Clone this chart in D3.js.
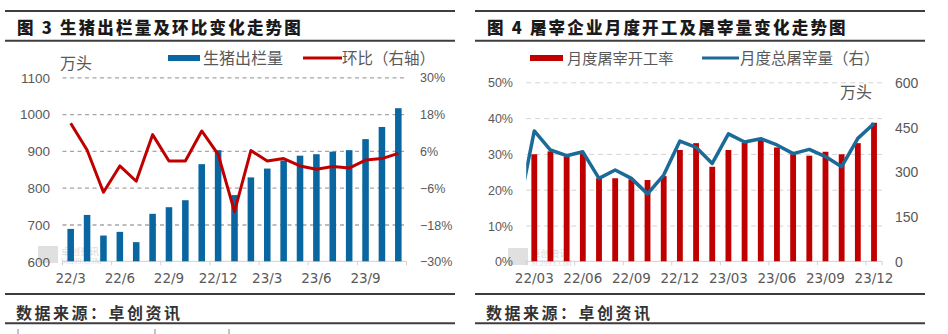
<!DOCTYPE html>
<html><head><meta charset="utf-8">
<script src="https://cdn.jsdelivr.net/npm/d3@7"></script>
<style>
html,body{margin:0;padding:0;background:#fff;}
svg{display:block;}
</style></head>
<body>
<svg id="c" width="948" height="334"></svg>
<script>
// ---------- Data: chart 3 ----------
const months1 = ['22/3','22/4','22/5','22/6','22/7','22/8','22/9','22/10','22/11','22/12','23/1','23/2','23/3','23/4','23/5','23/6','23/7','23/8','23/9','23/10','23/11'];
const hogOutput = [688,726,670,680,652,729,747,766,864,902,780,828,852,874,887,891,898,902,932,965,1016];
const momChange = [15.0,6.3,-7.5,1.1,-3.9,11.3,2.7,2.7,12.5,4.9,-13.8,6.1,2.7,3.5,1.1,0.0,0.9,0.4,3.0,3.5,5.2];
const xLabels1 = ['22/3','22/6','22/9','22/12','23/3','23/6','23/9'];
const yTicks1 = [600,700,800,900,1000,1100];
const y2Ticks1 = [-30,-18,-6,6,18,30];

// ---------- Data: chart 4 ----------
const months2 = ['22/03','22/04','22/05','22/06','22/07','22/08','22/09','22/10','22/11','22/12','23/01','23/02','23/03','23/04','23/05','23/06','23/07','23/08','23/09','23/10','23/11','23/12'];
const lineMonths2 = ['22/02'].concat(months2);
const slaughterRate = [29.9,30.7,29.3,30.0,23.2,23.2,22.9,22.7,23.8,31.1,33.0,26.4,31.1,33.1,33.9,31.8,29.9,29.5,30.6,29.9,33.0,38.7];
const slaughterVol = [165,437,373,354,367,278,306,278,226,289,403,382,328,427,400,411,390,361,375,351,317,412,462];
const xLabels2 = ['22/03','22/06','22/09','22/12','23/03','23/06','23/09','23/12'];
const yTicks2 = [0,10,20,30,40,50];
const y2Ticks2 = [0,150,300,450,600];

const svg = d3.select('#c');
svg.append('rect').attr('width',948).attr('height',334).attr('fill','#fff');

const CJK = '"Noto Sans CJK SC","Noto Sans",sans-serif';
const NUM = '"Liberation Sans",Arial,sans-serif';
const XNUM = '"DejaVu Sans",sans-serif';
const GRAY = '#595959';

function frame(x0, x1, title, source){
  const g = svg.append('g');
  [11, 40.7, 294, 323.3].forEach(y=>{
    g.append('line').attr('x1',x0).attr('x2',x1).attr('y1',y).attr('y2',y)
      .attr('stroke','#3d3d3d').attr('stroke-width',2);
  });
  g.append('text').attr('x',x0+12).attr('y',34).text(title)
    .attr('font-family',CJK).attr('font-weight',900).attr('font-size',16.5)
    .attr('letter-spacing',2.2).attr('fill','#1a1a1a').attr('xml:space','preserve');
  g.append('text').attr('x',x0+11).attr('y',318.5).text(source)
    .attr('font-family',CJK).attr('font-weight',700).attr('font-size',16)
    .attr('letter-spacing',2.5).attr('fill','#333');
}

function watermark(x, y){
  const g = svg.append('g').attr('opacity',0.55);
  g.append('rect').attr('x',x).attr('y',y).attr('width',20).attr('height',17).attr('fill','#c8c8c8');
  g.append('text').attr('x',x+23).attr('y',y+8.5).text('卓创资讯')
    .attr('font-family',CJK).attr('font-size',9.5).attr('fill','#bdbdbd');
  g.append('text').attr('x',x+23).attr('y',y+18).text('SCI99.COM')
    .attr('font-family','"Liberation Serif",serif').attr('font-size',8).attr('fill','#bdbdbd');
}

// ================= Chart 3 =================
frame(5, 455, '图 3 生猪出栏量及环比变化走势图', '数据来源：卓创资讯');
{
  const x = d3.scaleBand().domain(months1).range([62.5,406.5]).padding(0);
  const y = d3.scaleLinear().domain([600,1100]).range([261.3,77.3]);
  const y2 = d3.scaleLinear().domain([-30,30]).range([261.3,77.3]);
  const [xa, xb] = x.range();

  const grid = svg.append('g').attr('transform',`translate(${xa},0)`)
    .call(d3.axisLeft(y).tickValues(yTicks1.slice(1)).tickSize(-(xb-xa)).tickFormat(''));
  grid.select('.domain').remove();
  grid.selectAll('line').attr('stroke','#a6a6a6').attr('stroke-width',1.3).attr('stroke-dasharray','4,3.5');

  watermark(38, 246);

  svg.append('line').attr('x1',xa).attr('x2',xb).attr('y1',y(600)).attr('y2',y(600))
    .attr('stroke','#d0d0d0').attr('stroke-width',1);
  const bounds = months1.filter((d,i)=>i%3===0).map(d=>x(d)).concat([xb]);
  svg.append('g').selectAll('line').data(bounds).join('line')
    .attr('x1',d=>d).attr('x2',d=>d).attr('y1',y(600)).attr('y2',y(600)+4)
    .attr('stroke','#d0d0d0');

  const bw = x.bandwidth()*0.4;
  svg.append('g').selectAll('rect').data(months1).join('rect')
    .attr('x',(d)=>x(d)+(x.bandwidth()-bw)/2)
    .attr('width',bw)
    .attr('y',(d,i)=>y(hogOutput[i]))
    .attr('height',(d,i)=>y(600)-y(hogOutput[i]))
    .attr('fill','#0a66a0');

  const line = d3.line().x((d,i)=>x(months1[i])+x.bandwidth()/2).y(d=>y2(d));
  svg.append('path').datum(momChange).attr('d',line).attr('fill','none')
    .attr('stroke','#c00000').attr('stroke-width',3).attr('stroke-linejoin','round');

  const la = svg.append('g').attr('transform','translate(50,0)')
    .call(d3.axisLeft(y).tickValues(yTicks1).tickSize(0).tickPadding(0).tickFormat(d3.format('d')));
  la.select('.domain').remove();
  la.selectAll('text').attr('font-family',NUM).attr('font-size',13.5).attr('fill',GRAY).attr('dy','0.36em');

  const ra = svg.append('g').attr('transform','translate(420,0)')
    .call(d3.axisRight(y2).tickValues(y2Ticks1).tickSize(0).tickPadding(0).tickFormat(d=>(d<0?'−':'')+Math.abs(d)+'%'));
  ra.select('.domain').remove();
  ra.selectAll('text').attr('font-family',NUM).attr('font-size',12.5).attr('fill',GRAY).attr('dy','0.36em');

  const xaG = svg.append('g').attr('transform',`translate(0,${y(600)})`)
    .call(d3.axisBottom(x).tickValues(xLabels1).tickSize(0).tickPadding(17));
  xaG.select('.domain').remove();
  xaG.selectAll('text').attr('font-family',XNUM).attr('font-size',13.5).attr('fill',GRAY).attr('dy','0.36em');

  svg.append('text').attr('x',60).attr('y',68.5).text('万头')
    .attr('font-family',CJK).attr('font-size',16).attr('fill',GRAY);
  svg.append('rect').attr('x',168).attr('y',55).attr('width',32).attr('height',6).attr('fill','#0a66a0');
  svg.append('text').attr('x',203).attr('y',64).text('生猪出栏量')
    .attr('font-family',CJK).attr('font-size',16).attr('fill',GRAY);
  svg.append('line').attr('x1',303).attr('x2',342).attr('y1',58).attr('y2',58)
    .attr('stroke','#c00000').attr('stroke-width',3);
  svg.append('text').attr('x',342).attr('y',64).text('环比（右轴）')
    .attr('font-family',CJK).attr('font-size',15.5).attr('fill',GRAY);
}

// ================= Chart 4 =================
frame(475, 925, '图 4 屠宰企业月度开工及屠宰量变化走势图', '数据来源：卓创资讯');
{
  const x = d3.scaleBand().domain(months2).range([526.2,882.1]).padding(0);
  const y = d3.scaleLinear().domain([0,50]).range([261.3,82.3]);
  const y2 = d3.scaleLinear().domain([0,600]).range([261.3,82.3]);
  const [xa, xb] = x.range();
  const step = x.step();

  const grid = svg.append('g').attr('transform',`translate(${xa},0)`)
    .call(d3.axisLeft(y).tickValues(yTicks2.slice(1)).tickSize(-(xb-xa)).tickFormat(''));
  grid.select('.domain').remove();
  grid.selectAll('line').attr('stroke','#d4d4d4').attr('stroke-width',1).attr('stroke-dasharray','5,4');

  watermark(508, 248);

  svg.append('line').attr('x1',xa).attr('x2',xb).attr('y1',y(0)).attr('y2',y(0))
    .attr('stroke','#d0d0d0').attr('stroke-width',1);
  const bounds = months2.filter((d,i)=>i%3===0).map(d=>x(d)).concat([xb]);
  svg.append('g').selectAll('line').data(bounds).join('line')
    .attr('x1',d=>d).attr('x2',d=>d).attr('y1',y(0)).attr('y2',y(0)+4)
    .attr('stroke','#d0d0d0');

  const bw = x.bandwidth()*0.36;
  svg.append('g').selectAll('rect').data(months2).join('rect')
    .attr('x',d=>x(d)+(x.bandwidth()-bw)/2)
    .attr('width',bw)
    .attr('y',(d,i)=>y(slaughterRate[i]))
    .attr('height',(d,i)=>y(0)-y(slaughterRate[i]))
    .attr('fill','#c00000');

  const xl = d3.scalePoint().domain(lineMonths2)
    .range([x(months2[0])+x.bandwidth()/2-step, x(months2[months2.length-1])+x.bandwidth()/2]);
  svg.append('clipPath').attr('id','clip4').append('rect')
    .attr('x',xa).attr('y',0).attr('width',xb-xa+10).attr('height',334);
  const line = d3.line().x((d,i)=>xl(lineMonths2[i])).y(d=>y2(d));
  svg.append('path').datum(slaughterVol).attr('d',line).attr('fill','none')
    .attr('clip-path','url(#clip4)')
    .attr('stroke','#1b6b98').attr('stroke-width',3.5).attr('stroke-linejoin','round');

  const la = svg.append('g').attr('transform','translate(513,0)')
    .call(d3.axisLeft(y).tickValues(yTicks2).tickSize(0).tickPadding(0).tickFormat(d=>d+'%'));
  la.select('.domain').remove();
  la.selectAll('text').attr('font-family',NUM).attr('font-size',12.5).attr('fill',GRAY).attr('dy','0.36em');

  const ra = svg.append('g').attr('transform','translate(895,0)')
    .call(d3.axisRight(y2).tickValues(y2Ticks2).tickSize(0).tickPadding(0).tickFormat(d3.format('d')));
  ra.select('.domain').remove();
  ra.selectAll('text').attr('font-family',NUM).attr('font-size',14).attr('fill',GRAY).attr('dy','0.36em');

  const xaG = svg.append('g').attr('transform',`translate(0,${y(0)})`)
    .call(d3.axisBottom(x).tickValues(xLabels2).tickSize(0).tickPadding(17));
  xaG.select('.domain').remove();
  xaG.selectAll('text').attr('font-family',XNUM).attr('font-size',13.5).attr('fill',GRAY).attr('dy','0.36em');

  svg.append('text').attr('x',840).attr('y',98).text('万头')
    .attr('font-family',CJK).attr('font-size',16).attr('fill',GRAY);
  svg.append('rect').attr('x',530).attr('y',55).attr('width',33).attr('height',6).attr('fill','#c00000');
  svg.append('text').attr('x',567).attr('y',64).text('月度屠宰开工率')
    .attr('font-family',CJK).attr('font-size',15.2).attr('fill',GRAY);
  svg.append('line').attr('x1',702).attr('x2',739).attr('y1',58).attr('y2',58)
    .attr('stroke','#1b6b98').attr('stroke-width',3);
  svg.append('text').attr('x',740).attr('y',64).text('月度总屠宰量（右）')
    .attr('font-family',CJK).attr('font-size',15.5).attr('fill',GRAY);
}

svg.append('g').selectAll('line').data([18,155,229]).join('line')
  .attr('x1',d=>d).attr('x2',d=>d).attr('y1',329).attr('y2',334)
  .attr('stroke','#888').attr('stroke-width',1);
</script>
</body></html>
